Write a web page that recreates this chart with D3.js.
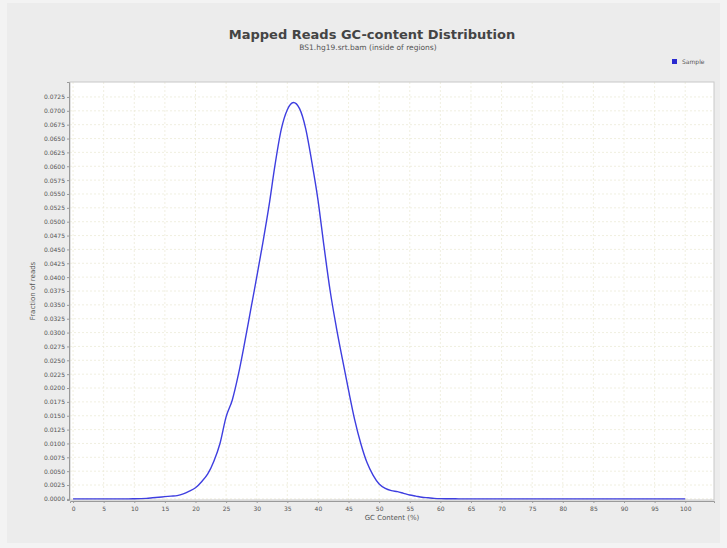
<!DOCTYPE html>
<html>
<head>
<meta charset="utf-8">
<script src="https://cdn.jsdelivr.net/npm/d3@7"></script>
<style>
  html, body { margin: 0; padding: 0; background: #eeeeee; }
  svg { display: block; }
  text { font-family: "DejaVu Sans", sans-serif; }
</style>
</head>
<body>
<svg id="chart" width="727" height="548"></svg>
<script>
// ---- data ----
const title = "Mapped Reads GC-content Distribution";
const subtitle = "BS1.hg19.srt.bam (inside of regions)";
const xLabel = "GC Content (%)";
const yLabel = "Fraction of reads";
const seriesName = "Sample";

const gcContent = d3.range(0, 101);
const fraction = [
  0.0000, 0.0000, 0.0000, 0.0000, 0.0000, 0.0000, 0.0000, 0.0000, 0.0000, 0.0000,
  0.00002, 0.00005, 0.0001, 0.0002, 0.0003, 0.0004, 0.0005, 0.0006, 0.0009, 0.0014,
  0.0020, 0.0031, 0.0045, 0.0068, 0.0100, 0.0148, 0.0178, 0.0224, 0.0280, 0.0340,
  0.0400, 0.0462, 0.0528, 0.0603, 0.0666, 0.0702, 0.0715, 0.0704, 0.0668, 0.0608,
  0.0540, 0.0455, 0.0375, 0.0310, 0.0252, 0.0196, 0.0143, 0.0100, 0.0066, 0.0043,
  0.0027, 0.0019, 0.0015, 0.0013, 0.0010, 0.0007, 0.0005, 0.0003, 0.0002, 0.0001,
  0.00005, 0.00003, 0.00002, 0.00001, 0.00001, 0.0000, 0.0000, 0.0000, 0.0000, 0.0000,
  0.0000, 0.0000, 0.0000, 0.0000, 0.0000, 0.0000, 0.0000, 0.0000, 0.0000, 0.0000,
  0.0000, 0.0000, 0.0000, 0.0000, 0.0000, 0.0000, 0.0000, 0.0000, 0.0000, 0.0000,
  0.0000, 0.0000, 0.0000, 0.0000, 0.0000, 0.0000, 0.0000, 0.0000, 0.0000, 0.0000,
  0.0000
];
const xTicks = d3.range(0, 101, 5);
const yTicks = d3.range(0, 30).map(i => +(i * 0.0025).toFixed(4));

// ---- layout ----
const svg = d3.select("#chart");
const W = 727, H = 548;
const plot = { left: 70, top: 82, right: 714, bottom: 500 };

svg.append("rect").attr("width", W).attr("height", H).attr("fill", "#f3f3f3");
svg.append("rect").attr("x", 7).attr("y", 3).attr("width", W - 14).attr("height", H - 8)
  .attr("fill", "#ececec");

const x = d3.scaleLinear().domain([-0.5, 104.7]).range([plot.left, plot.right]);
const y = d3.scaleLinear().domain([-0.0002, 0.0752]).range([plot.bottom, plot.top]);

// plot background
svg.append("rect")
  .attr("x", plot.left).attr("y", plot.top)
  .attr("width", plot.right - plot.left).attr("height", plot.bottom - plot.top)
  .attr("fill", "#ffffff");

// gridlines
const grid = svg.append("g");
grid.selectAll("line.gy").data(yTicks).join("line")
  .attr("x1", plot.left).attr("x2", plot.right)
  .attr("y1", d => y(d)).attr("y2", d => y(d))
  .attr("stroke", "#ecebd8").attr("stroke-width", 0.8).attr("stroke-dasharray", "2,2");
grid.selectAll("line.gx").data(xTicks).join("line")
  .attr("y1", plot.top).attr("y2", plot.bottom)
  .attr("x1", d => x(d)).attr("x2", d => x(d))
  .attr("stroke", "#ecebd8").attr("stroke-width", 0.8).attr("stroke-dasharray", "2,2");

// plot border
svg.append("rect")
  .attr("x", plot.left).attr("y", plot.top)
  .attr("width", plot.right - plot.left).attr("height", plot.bottom - plot.top)
  .attr("fill", "none").attr("stroke", "#c8c8c8").attr("stroke-width", 1);

// axes
const yAxis = d3.axisLeft(y).tickValues(yTicks).tickFormat(d3.format(".4f")).tickSize(2).tickPadding(2);
const gy = svg.append("g").attr("transform", `translate(${plot.left - 1},0)`).call(yAxis);
gy.select(".domain").attr("stroke", "#9a9a9a");
gy.selectAll(".tick line").attr("stroke", "#9a9a9a");
gy.selectAll(".tick text").attr("fill", "#555").style("font-size", "6px");

const xAxis = d3.axisBottom(x).tickValues(xTicks).tickFormat(d3.format("d")).tickSize(2).tickPadding(4);
const gx = svg.append("g").attr("transform", `translate(0,${plot.bottom + 1})`).call(xAxis);
gx.select(".domain").attr("stroke", "#9a9a9a");
gx.selectAll(".tick line").attr("stroke", "#9a9a9a");
gx.selectAll(".tick text").attr("fill", "#555").style("font-size", "6px");

// series line
const line = d3.line().x((d, i) => x(gcContent[i])).y(d => y(d)).curve(d3.curveMonotoneX);
svg.append("path").datum(fraction)
  .attr("d", line).attr("fill", "none")
  .attr("stroke", "#3e3ee0").attr("stroke-width", 1.4);

// titles
svg.append("text").attr("x", 372).attr("y", 39).attr("text-anchor", "middle")
  .attr("font-weight", "bold").attr("font-size", 13).attr("fill", "#444").text(title);
svg.append("text").attr("x", 368).attr("y", 50).attr("text-anchor", "middle")
  .attr("font-size", 7.5).attr("fill", "#555").text(subtitle);

// axis labels
svg.append("text").attr("x", (plot.left + plot.right) / 2).attr("y", 520)
  .attr("text-anchor", "middle").attr("font-size", 7).attr("fill", "#555").text(xLabel);
svg.append("text")
  .attr("transform", `translate(35,${(plot.top + plot.bottom) / 2}) rotate(-90)`)
  .attr("text-anchor", "middle").attr("font-size", 7).attr("fill", "#555").text(yLabel);

// legend
const lg = svg.append("g").attr("transform", "translate(672,59)");
lg.append("rect").attr("width", 5).attr("height", 5).attr("fill", "#2a2ad0");
lg.append("text").attr("x", 10).attr("y", 5).attr("font-size", 6).attr("fill", "#555").text(seriesName);
</script>
</body>
</html>
